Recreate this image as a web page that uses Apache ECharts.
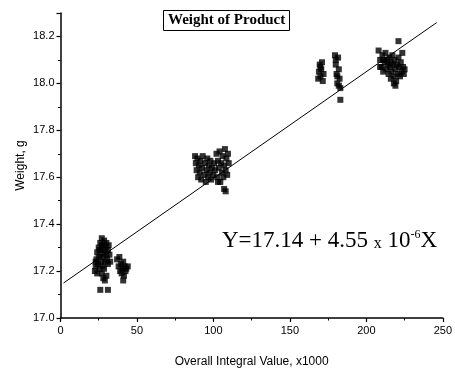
<!DOCTYPE html>
<html><head><meta charset="utf-8">
<script src="https://cdn.jsdelivr.net/npm/echarts@6/dist/echarts.min.js"></script>
<style>html,body{margin:0;padding:0;background:#fff}#c{width:455px;height:373px}</style>
</head><body><div id="c"></div>
<script>
// Data: [Overall Integral Value (x1000), Weight (g)]
const group1 = [[23,17.22],[23.5,17.25],[24,17.28],[24.5,17.23],[25,17.26],[25,17.3],[25.5,17.21],[26,17.32],[26,17.27],[26.5,17.24],[27,17.34],[27,17.29],[27.5,17.22],[28,17.31],[28,17.26],[28.5,17.33],[29,17.28],[29,17.24],[29.5,17.3],[30,17.32],[30,17.27],[30.5,17.25],[31,17.29],[31,17.23],[31.5,17.31],[32,17.27],[32.5,17.24],[22.5,17.2],[24,17.19],[27,17.19],[28,17.17],[29,17.16],[30,17.18],[26,17.12],[31,17.12],[23,17.24],[25.5,17.29],[28.5,17.21],[27,17.31]];
const group2 = [[37,17.25],[38,17.22],[38.5,17.26],[39,17.2],[39.5,17.23],[40,17.19],[40.5,17.21],[41,17.24],[41.5,17.18],[42,17.22],[42.5,17.2],[43,17.21],[44,17.22],[41,17.16]];
const group3 = [[88,17.69],[88.5,17.66],[89,17.63],[89.5,17.68],[90,17.6],[90.5,17.65],[91,17.62],[91.5,17.67],[92,17.59],[92.5,17.64],[93,17.69],[94,17.61],[94.5,17.66],[95,17.58],[95.5,17.63],[96,17.68],[96.5,17.6],[97,17.65],[97.5,17.62],[98,17.67],[98.5,17.59],[99,17.64],[100,17.61],[100.5,17.66],[101,17.63],[102,17.7],[102.5,17.6],[103,17.67],[103.5,17.64],[104,17.71],[104.5,17.58],[105,17.66],[105.5,17.62],[106,17.69],[106.5,17.6],[107,17.65],[107.5,17.72],[108,17.63],[108.5,17.68],[109,17.61],[109.5,17.7],[110,17.66],[107,17.55],[108,17.54],[103,17.58]];
const group4 = [[168.5,18.02],[169,18.05],[169.5,18.08],[170,18.03],[170.5,18.06],[171,18.09],[171.5,18.01],[172,18.04],[170,18.07],[179.5,18.12],[180,18.08],[180.5,18.04],[181,18.0],[181.5,18.11],[182,18.06],[182.5,18.02],[183,17.98],[181,18.03],[182,17.99],[183,17.93],[180,18.1]];
const group5 = [[208,18.14],[209,18.1],[210,18.07],[210.5,18.12],[211,18.05],[212,18.09],[212.5,18.13],[213,18.06],[213.5,18.1],[214,18.08],[214.5,18.04],[215,18.11],[215.5,18.07],[216,18.09],[216.5,18.05],[217,18.12],[217.5,18.08],[218,18.03],[218.5,18.1],[219,18.06],[219.5,18.01],[220,18.08],[220.5,18.04],[221,18.18],[221,18.11],[221.5,18.07],[222,18.03],[222.5,18.09],[223,18.05],[223.5,18.13],[224,18.07],[224.5,18.04],[225,18.06],[219,17.99],[218,18.0],[216,18.02],[211,18.1],[209,18.07]];
// Linear fit Y = 17.14 + 4.55e-6 X (X raw; axis in x1000)
const fitIntercept = 17.14;
const fitSlope = 4.55e-6;
const fitX = [2, 246];
const xTicks = [0, 50, 100, 150, 200, 250];
const yTicks = [17.0, 17.2, 17.4, 17.6, 17.8, 18.0, 18.2];

const points = [].concat(group1, group2, group3, group4, group5);
const fitLine = fitX.map(x => [x, fitIntercept + fitSlope * x * 1000]);

const chart = echarts.init(document.getElementById('c'), null, {renderer: 'canvas'});
const axisFont = {color: '#000', fontFamily: 'Liberation Sans, Arial', fontSize: 11};
chart.setOption({
  animation: false,
  backgroundColor: '#fff',
  title: {
    text: 'Weight of Product',
    left: 163, top: 10,
    padding: [3, 5, 3, 5],
    borderColor: '#000', borderWidth: 1,
    textStyle: {fontFamily: 'Liberation Serif, Times New Roman', fontWeight: 'bold', fontSize: 15, color: '#000'}
  },
  grid: {left: 60.5, right: 10, top: 13, bottom: 49.7, containLabel: false},
  xAxis: {
    type: 'value', min: xTicks[0], max: xTicks[xTicks.length - 1], interval: 50,
    name: 'Overall Integral Value, x1000', nameLocation: 'middle', nameGap: 38,
    nameTextStyle: {color: '#000', fontFamily: 'Liberation Sans, Arial', fontSize: 12},
    axisLine: {lineStyle: {color: '#000', width: 1.5}},
    axisTick: {show: true, inside: false, length: 4, lineStyle: {color: '#000', width: 1.2}},
    minorTick: {show: true, splitNumber: 2, length: 2.5, lineStyle: {color: '#000', width: 1}},
    axisLabel: Object.assign({margin: 7}, axisFont),
    splitLine: {show: false}
  },
  yAxis: {
    type: 'value', min: 17.0, max: 18.3, interval: 0.2,
    name: 'Weight, g', nameLocation: 'middle', nameGap: 34, nameMoveOverlap: false,
    nameTextStyle: {color: '#000', fontFamily: 'Liberation Sans, Arial', fontSize: 12},
    axisLine: {show: true, lineStyle: {color: '#000', width: 1.5}},
    axisTick: {show: true, inside: false, length: 4, lineStyle: {color: '#000', width: 1.2}},
    minorTick: {show: true, splitNumber: 2, length: 2.5, lineStyle: {color: '#000', width: 1}},
    axisLabel: Object.assign({margin: 6, showMaxLabel: false, formatter: v => yTicks.some(t => Math.abs(t - v) < 1e-6) ? v.toFixed(1) : ''}, axisFont),
    splitLine: {show: false}
  },
  series: [
    {type: 'line', data: fitLine, showSymbol: false, symbol: 'none', lineStyle: {color: '#000', width: 1}, z: 1},
    {type: 'scatter', data: points, symbol: 'rect', symbolSize: 6, itemStyle: {color: '#000'}, z: 2}
  ],
  graphic: [{
    type: 'text', left: 222, top: 229,
    style: {
      text: '{a|Y=17.14 + 4.55 }{s|x}{a| 10}{p|-6}{a|X}',
      rich: {
        a: {fontFamily: 'Liberation Serif, Times New Roman', fontSize: 23, fill: '#000', verticalAlign: 'bottom'},
        s: {fontFamily: 'Liberation Serif, Times New Roman', fontSize: 16, fill: '#000', verticalAlign: 'bottom'},
        p: {fontFamily: 'Liberation Serif, Times New Roman', fontSize: 12, fill: '#000', verticalAlign: 'top'}
      }
    }
  }]
});
</script></body></html>
